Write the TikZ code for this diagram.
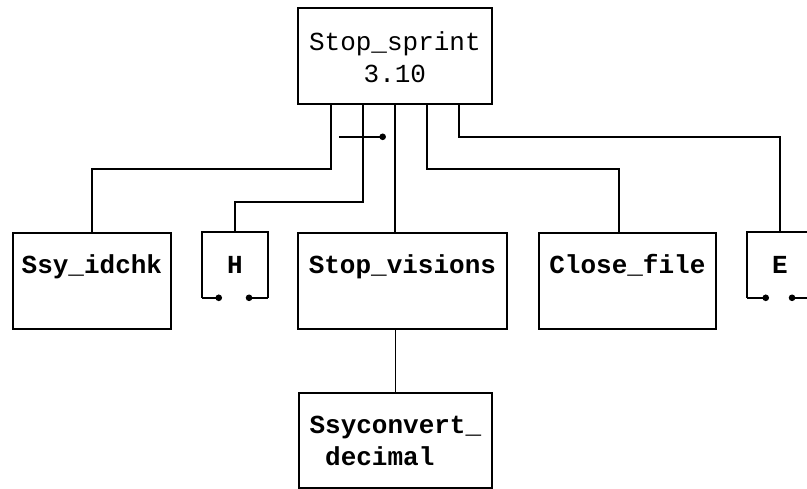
\documentclass[tikz,border=0pt]{standalone}
\usepackage{fontspec}
\setmonofont{Liberation Mono}
\usetikzlibrary{arrows.meta}
\tikzset{
    module/.style = { draw, line width=1.8pt, inner sep=0pt, anchor=north west,
                      font=\ttfamily\bfseries\fontsize{26}{32}\selectfont, align=center },
    caller/.style = { module, font=\ttfamily\fontsize{26}{32}\selectfont },
       rim/.style = { line width=1.8pt },
      wire/.style = { line width=1.5pt },
      flag/.style = { wire, -{Circle[length=6.5pt]} },
}

\begin{document}
\begin{tikzpicture}[x=1pt, y=-1pt]
  \useasboundingbox (0,0) rectangle (807,488);
  % boxes
  \node [caller, minimum width=194, text height=75, text depth=21] (sprint) at (297,7)
    {Stop\_sprint\\3.10};
  \node [module, minimum width=158, text height=41, text depth=55] (idchk)   at (12,232)  {Ssy\_idchk};
  \node [module, draw=none, minimum width=64, text height=41, text depth=23] (hbox) at (202,232) {H};
  \node [module, minimum width=209, text height=41, text depth=55] (visions) at (297,232) {Stop\_visions};
  \node [module, minimum width=177, text height=41, text depth=55] (close)   at (538,232) {Close\_file};
  \node [module, draw=none, minimum width=64, text height=41, text depth=23] (ebox) at (747,232) {E};
  \node [module, minimum width=193, text height=73, text depth=22, align=left] (convert) at (298,392)
    {Ssyconvert\_\\\hphantom{d}decimal};
  % open boxes
  \foreach \b in {hbox,ebox}
    \draw [rim] (\b.south west) |- (\b.north east) -- (\b.south east);
  \draw [flag] (hbox.south west) -- ++(20,0);
  \draw [flag] (hbox.south east) -- ++(-22,0);
  \draw [flag] (ebox.south west) -- ++(22,0);
  \draw [flag] (ebox.south east) -- ++(-24,0);
  % calls
  \draw [wire] ([xshift=-64pt]sprint.south) -- ++(0,64) -| (idchk.north);
  \draw [wire] ([xshift=-32pt]sprint.south) -- ++(0,97) -| (hbox.north);
  \draw [wire] (sprint.south) -- (sprint.south |- visions.north);
  \draw [wire] ([xshift=32pt]sprint.south) -- ++(0,64) -| ([xshift=-8.5pt]close.north);
  \draw [wire] ([xshift=64pt]sprint.south) -- ++(0,32) -| (ebox.north);
  \draw [wire] (visions.south -| convert.north) -- (convert.north);
  \draw [flag] ([shift={(-56,32)}]sprint.south) -- ++(47,0);
\end{tikzpicture}
\end{document}
